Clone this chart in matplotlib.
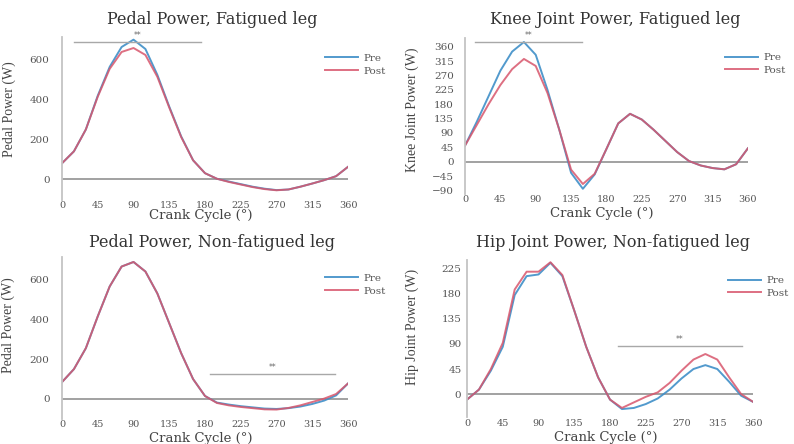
import numpy as np
import matplotlib
matplotlib.use("Agg")
import matplotlib.pyplot as plt

# crank angle (deg), sampled every 15 deg
angle = np.arange(0, 361, 15)

# pedal power, fatigued leg (W)
pedal_fat_pre = [80, 140, 250, 420, 565, 665, 702, 655, 525, 365, 215, 95, 30, 2, -12, -25, -38, -48, -55, -52, -38, -22, -5, 15, 62]
pedal_fat_post = [80, 140, 250, 415, 555, 640, 660, 625, 515, 360, 212, 95, 30, 2, -14, -27, -40, -50, -56, -52, -38, -22, -5, 15, 62]

# knee joint power, fatigued leg (W)
knee_fat_pre = [50, 125, 205, 285, 345, 375, 335, 225, 100, -35, -85, -40, 40, 120, 150, 132, 100, 65, 30, 2, -12, -20, -24, -8, 42]
knee_fat_post = [50, 115, 180, 240, 290, 322, 300, 215, 100, -25, -70, -38, 40, 120, 150, 132, 100, 65, 30, 2, -12, -20, -24, -8, 42]

# pedal power, non-fatigued leg (W)
pedal_non_pre = [85, 150, 255, 415, 565, 665, 688, 640, 530, 380, 230, 100, 15, -18, -28, -36, -42, -48, -50, -46, -38, -25, -8, 18, 78]
pedal_non_post = [85, 150, 255, 415, 565, 665, 688, 640, 530, 380, 230, 100, 15, -20, -32, -40, -46, -52, -53, -45, -32, -15, 2, 25, 78]

# hip joint power, non-fatigued leg (W)
hip_non_pre = [-10, 8, 42, 85, 178, 212, 215, 236, 212, 150, 85, 30, -10, -27, -25, -18, -8, 8, 28, 45, 52, 45, 22, -3, -14]
hip_non_post = [-10, 8, 45, 92, 188, 220, 220, 237, 214, 150, 85, 30, -10, -25, -15, -5, 3, 20, 42, 62, 72, 62, 30, 0, -14]

xticks = list(range(0, 361, 45))
serif = "DejaVu Serif"
pre_col = "#3f8fc8"
post_col = "#d8566c"

fig = plt.figure(figsize=(7.94, 4.44), dpi=100)

panels = [
    dict(rect=[0.0781, 0.5495, 0.3602, 0.367], title="Pedal Power, Fatigued leg", tpos=(212, 20),
         ylabel="Pedal Power (W)", pre=pedal_fat_pre, post=pedal_fat_post, ylim=(-105, 715),
         yticks=[0, 200, 400, 600], sig=(15, 175, 688), leg=(325, 64.5),
         ylc=(-0.16, 0.56), xlc=-0.058, ypad=9),
    dict(rect=[0.5856, 0.564, 0.3564, 0.3507], title="Knee Joint Power, Fatigued leg", tpos=(615, 20),
         ylabel="Knee Joint Power (W)", pre=knee_fat_pre, post=knee_fat_post, ylim=(-100, 388),
         yticks=list(range(-90, 361, 45)), sig=(13, 149, 376), leg=(725, 64),
         ylc=(-0.163, 0.537), xlc=-0.086, ypad=8),
    dict(rect=[0.0781, 0.0565, 0.3602, 0.3647], title="Pedal Power, Non-fatigued leg", tpos=(212, 242),
         ylabel="Pedal Power (W)", pre=pedal_non_pre, post=pedal_non_post, ylim=(-100, 713),
         yticks=[0, 200, 400, 600], sig=(186, 344, 125), leg=(325, 284.5),
         ylc=(-0.163, 0.58), xlc=-0.078, ypad=9),
    dict(rect=[0.5882, 0.0599, 0.3602, 0.3545], title="Hip Joint Power, Non-fatigued leg", tpos=(613, 242),
         ylabel="Hip Joint Power (W)", pre=hip_non_pre, post=hip_non_post, ylim=(-42, 241),
         yticks=list(range(0, 226, 45)), sig=(190, 346, 86), leg=(728, 287),
         ylc=(-0.168, 0.574), xlc=-0.086, ypad=4),
]

W, H = 794.0, 444.0
for p in panels:
    ax = fig.add_axes(p["rect"])
    ax.plot(angle, p["pre"], color=pre_col, lw=1.4, alpha=0.9, label="Pre")
    ax.plot(angle, p["post"], color=post_col, lw=1.4, alpha=0.85, label="Post")
    ax.axhline(0, color="#9a9a9a", lw=1.3, zorder=0)
    ax.set_xlim(0, 360)
    ax.set_ylim(*p["ylim"])
    ax.set_xticks(xticks)
    ax.set_yticks(p["yticks"])
    for s in ["top", "right", "bottom"]:
        ax.spines[s].set_visible(False)
    ax.spines["left"].set_color("#c4c4c4")
    ax.spines["left"].set_linewidth(1.3)
    ax.tick_params(axis="x", length=0, pad=1, labelsize=7, labelcolor="#555555")
    ax.tick_params(axis="y", length=0, pad=p["ypad"], labelsize=7.5, labelcolor="#555555")
    for lab in ax.get_xticklabels() + ax.get_yticklabels():
        lab.set_family(serif)
    ax.set_xlabel("Crank Cycle (°)", family=serif, fontsize=9.5, color="#444444")
    ax.xaxis.set_label_coords(0.485, p["xlc"])
    ax.set_ylabel(p["ylabel"], family="Liberation Serif", fontsize=10, color="#444444")
    ax.yaxis.set_label_coords(*p["ylc"])

    # significance bar
    x0, x1, yb = p["sig"]
    ax.plot([x0, x1], [yb, yb], color="#a8a8a8", lw=1.0, clip_on=False)
    ax.annotate("**", xy=((x0 + x1) / 2, yb), xytext=(0, 1.5), textcoords="offset points",
                ha="center", va="bottom", fontsize=5.5, color="#666666", annotation_clip=False)

    fig.text(p["tpos"][0] / W, 1 - p["tpos"][1] / H, p["title"], family=serif, fontsize=11.5,
             color="#333333", ha="center", va="center")

    lx, ly = p["leg"]
    leg = ax.legend(loc="center left", bbox_to_anchor=(lx / W, 1 - ly / H), bbox_transform=fig.transFigure,
                    frameon=False, handlelength=3.2, handletextpad=0.5,
                    labelspacing=0.35, borderpad=0, borderaxespad=0, prop={"family": serif, "size": 7.5})
    for t in leg.get_texts():
        t.set_color("#555555")

fig.savefig("out.png", dpi=100)
